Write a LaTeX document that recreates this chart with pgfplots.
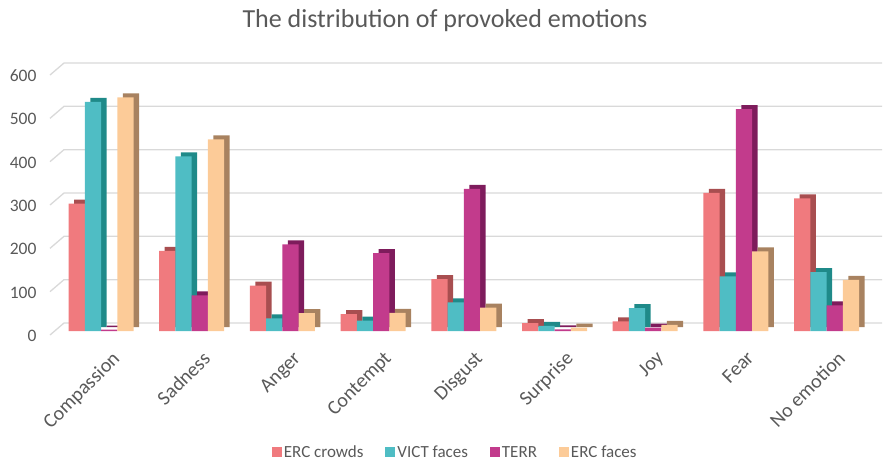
\documentclass[border=0pt]{standalone}
\usepackage{pgfplots}
\pgfplotsset{compat=1.18}
\usepackage{fontspec}
\setmainfont{Carlito}
\definecolor{txt}{HTML}{595959}
\definecolor{gridc}{HTML}{D9D9D9}
\definecolor{cA}{HTML}{F07A7E}\definecolor{cAd}{HTML}{A84E50}
\definecolor{cB}{HTML}{4FBDC4}\definecolor{cBd}{HTML}{1F8A89}
\definecolor{cC}{HTML}{C23B8C}\definecolor{cCd}{HTML}{7E1C5C}
\definecolor{cD}{HTML}{FCCB98}\definecolor{cDd}{HTML}{A88260}
\begin{document}
\begin{tikzpicture}
\useasboundingbox (0,0) rectangle (890bp,-468bp);
\node[anchor=base, text=txt, font=\fontsize{26bp}{30bp}\selectfont] at (445bp,-27bp) {The distribution of provoked emotions};
\begin{axis}[
  anchor=south west, at={(50bp,-331bp)},
  x=90.69bp, y=0.43333bp,
  xmin=-0.563, xmax=8.612, ymin=0, ymax=600,
  clip=false,
  axis line style={draw=none},
  major tick length=0pt,
  xtick={0,...,8},
  xticklabels={Compassion,Sadness,Anger,Contempt,Disgust,Surprise,Joy,Fear,No emotion},
  ytick={0,100,...,600},
  /pgf/number format/assume math mode=true,
  xticklabel style={rotate=45, anchor=north east, text=txt, font=\fontsize{20bp}{24bp}\selectfont, yshift=-17bp, xshift=-3bp},
  yticklabel style={anchor=east, text=txt, font=\fontsize{17.5bp}{21bp}\selectfont, xshift=-10bp, yshift=-5bp},
  legend columns=-1,
  legend style={at={(0.487,-0.467)}, anchor=center, draw=none, fill=none,
    font=\fontsize{17bp}{20bp}\selectfont, text=txt,
    /tikz/every even column/.append style={column sep=20bp}},
  legend image code/.code={\fill[#1] (0bp,-5bp) rectangle (10bp,5bp);},
]
% grid (back wall with floor diagonal)
\foreach \v in {0,100,...,600}{
  \edef\tmp{\noexpand\draw[gridc, line width=1.3bp] ([yshift=-4bp]axis cs:-0.563,\v) -- ++(14bp,12bp) -- ([yshift=8bp]axis cs:8.612,\v);}\tmp
}
% ERC crowds
\addplot[ybar, bar width=16.25bp, bar shift=-18.875bp, yshift=4bp, fill=cAd, draw=none, forget plot] coordinates {(0,294)(1,185)(2,105)(3,39)(4,120)(5,18)(6,22)(7,319)(8,306)};
\addplot[ybar, bar width=16.25bp, bar shift=-24.375bp, fill=cA, draw=none] coordinates {(0,294)(1,185)(2,105)(3,39)(4,120)(5,18)(6,22)(7,319)(8,306)};
% VICT faces
\addplot[ybar, bar width=16.25bp, bar shift=-2.625bp, yshift=4bp, fill=cBd, draw=none, forget plot] coordinates {(0,529)(1,403)(2,29)(3,24)(4,66)(5,12)(6,53)(7,126)(8,136)};
\addplot[ybar, bar width=16.25bp, bar shift=-8.125bp, fill=cB, draw=none] coordinates {(0,529)(1,403)(2,29)(3,24)(4,66)(5,12)(6,53)(7,126)(8,136)};
% TERR
\addplot[ybar, bar width=16.25bp, bar shift=13.625bp, yshift=4bp, fill=cCd, draw=none, forget plot] coordinates {(0,3)(1,82)(2,200)(3,180)(4,328)(5,4)(6,8)(7,512)(8,59)};
\addplot[ybar, bar width=16.25bp, bar shift=8.125bp, fill=cC, draw=none] coordinates {(0,3)(1,82)(2,200)(3,180)(4,328)(5,4)(6,8)(7,512)(8,59)};
% ERC faces
\addplot[ybar, bar width=16.25bp, bar shift=29.875bp, yshift=4bp, fill=cDd, draw=none, forget plot] coordinates {(0,539)(1,442)(2,41)(3,42)(4,54)(5,8)(6,14)(7,184)(8,118)};
\addplot[ybar, bar width=16.25bp, bar shift=24.375bp, fill=cD, draw=none] coordinates {(0,539)(1,442)(2,41)(3,42)(4,54)(5,8)(6,14)(7,184)(8,118)};
\legend{ERC crowds, VICT faces, TERR, ERC faces}
\end{axis}
\end{tikzpicture}
\end{document}
